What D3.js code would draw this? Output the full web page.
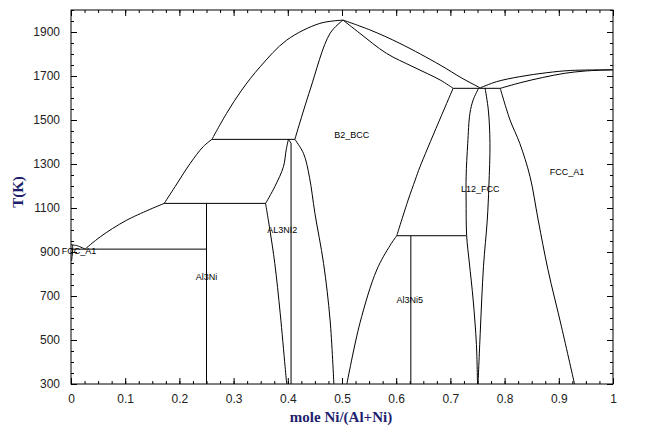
<!DOCTYPE html>
<html>
<head>
<meta charset="utf-8">
<script src="https://cdn.jsdelivr.net/npm/d3@7/dist/d3.min.js"></script>
<style>
  html, body { margin: 0; padding: 0; background: #fff; }
  svg { display: block; }
</style>
</head>
<body>
<svg id="chart" width="645" height="442"></svg>
<script>
// ---------- DATA (composition x = mole Ni/(Al+Ni), temperature T in K) ----------
const xTickValues = [0, 0.1, 0.2, 0.3, 0.4, 0.5, 0.6, 0.7, 0.8, 0.9, 1];
const xTickLabels = ["0", "0.1", "0.2", "0.3", "0.4", "0.5", "0.6", "0.7", "0.8", "0.9", "1"];
const yTickValues = [300, 500, 700, 900, 1100, 1300, 1500, 1700, 1900];
const yTickLabels = ["300", "500", "700", "900", "1100", "1300", "1500", "1700", "1900"];

const liquidusAl = [[0, 933], [0.012, 928], [0.026, 913]];
const solvusAl = [[0.003, 933], [0.003, 913], [0.002, 880], [0.001, 860]];
const liquidusAl3Ni = [[0.026, 913], [0.054, 969], [0.103, 1045], [0.172, 1121]];
const liquidusAl3Ni2 = [[0.172, 1121], [0.192, 1197], [0.220, 1303], [0.244, 1379], [0.260, 1412]];
const liquidusB2Left = [[0.260, 1412], [0.287, 1530], [0.315, 1636], [0.349, 1742], [0.398, 1863], [0.459, 1939], [0.502, 1954]];
const liquidusB2Right = [[0.502, 1954], [0.552, 1909], [0.607, 1848], [0.681, 1750], [0.720, 1692], [0.755, 1646]];
const solidusB2Left = [[0.413, 1412], [0.441, 1636], [0.478, 1894], [0.502, 1954]];
const solidusB2Right = [[0.502, 1954], [0.533, 1894], [0.582, 1803], [0.631, 1742], [0.681, 1682], [0.705, 1644]];
const b2LeftSolvus = [[0.413, 1412], [0.429, 1348], [0.440, 1240], [0.450, 1076], [0.466, 848], [0.478, 591], [0.485, 300]];
const b2RightUpper = [[0.705, 1644], [0.644, 1288], [0.635, 1227], [0.622, 1136], [0.601, 974]];
const b2RightLower = [[0.601, 974], [0.589, 931], [0.564, 818], [0.533, 576], [0.509, 300]];
const al3ni2LeftUpper = [[0.359, 1121], [0.376, 1197], [0.392, 1288], [0.397, 1364], [0.401, 1412]];
const al3ni2LeftLower = [[0.359, 1121], [0.367, 1000], [0.376, 848], [0.386, 621], [0.395, 379], [0.398, 300]];
const al3ni2Right = [[0.401, 1412], [0.406, 1395], [0.406, 300]];
const l12Left = [[0.752, 1644], [0.742, 1591], [0.736, 1530], [0.732, 1394], [0.729, 1242], [0.729, 1136], [0.730, 974], [0.735, 850], [0.742, 682], [0.748, 480], [0.750, 300]];
const l12Right = [[0.764, 1644], [0.770, 1545], [0.773, 1394], [0.771, 1200], [0.768, 1045], [0.761, 833], [0.755, 530], [0.751, 300]];
const fccSolvus = [[0.792, 1644], [0.810, 1500], [0.828, 1394], [0.847, 1242], [0.862, 1045], [0.880, 820], [0.905, 560], [0.929, 300]];
const liquidusFcc = [[0.755, 1646], [0.785, 1674], [0.828, 1697], [0.878, 1715], [0.921, 1725], [1, 1728]];
const solidusFcc = [[0.792, 1644], [0.830, 1670], [0.870, 1693], [0.910, 1712], [0.950, 1723], [1, 1728]];

const eutecticAl = [[0, 913], [0.25, 913]];
const peritecticAl3Ni = [[0.172, 1121], [0.359, 1121]];
const peritecticAl3Ni2 = [[0.260, 1412], [0.413, 1412]];
const peritectoidAl3Ni5 = [[0.601, 974], [0.729, 974]];
const invariantL12 = [[0.705, 1644], [0.792, 1644]];
const lineAl3Ni = [[0.25, 1121], [0.25, 300]];
const lineAl3Ni5 = [[0.627, 974], [0.627, 300]];

const smoothCurves = [liquidusAl, solvusAl, liquidusAl3Ni, liquidusAl3Ni2, liquidusB2Left, liquidusB2Right,
  solidusB2Left, solidusB2Right, b2LeftSolvus, b2RightUpper, b2RightLower, al3ni2LeftUpper, al3ni2LeftLower,
  l12Left, l12Right, fccSolvus, liquidusFcc, solidusFcc];
const straightLines = [eutecticAl, peritecticAl3Ni, peritecticAl3Ni2, peritectoidAl3Ni5, invariantL12,
  lineAl3Ni, lineAl3Ni5, al3ni2Right];

const phaseLabels = ["B2_BCC", "L12_FCC", "FCC_A1", "AL3NI2", "Al3Ni", "Al3Ni5", "FCC_A1"];
const phaseLabelX = [0.518, 0.755, 0.915, 0.390, 0.250, 0.625, 0.015];
const phaseLabelT = [1418, 1173, 1250, 986, 773, 668, 891];

// ---------- LAYOUT ----------
const svg = d3.select("#chart");
svg.append("rect").attr("width", 645).attr("height", 442).attr("fill", "#fff");

const x = d3.scaleLinear().domain([0, 1]).range([71, 613]);
const y = d3.scaleLinear().domain([300, 2000]).range([384, 10]);

const minorX = d3.range(0, 1.0001, 0.025).map(v => +v.toFixed(3));
const minorY = d3.range(300, 2000.1, 50);

function clean(g) { g.select(".domain").remove(); g.selectAll("line").attr("stroke", "#000"); }

// minor ticks
svg.append("g").attr("transform", "translate(0,384)")
  .call(d3.axisBottom(x).tickValues(minorX).tickSize(-3).tickFormat("")).call(clean);
svg.append("g").attr("transform", "translate(0,10)")
  .call(d3.axisTop(x).tickValues(minorX).tickSize(-3).tickFormat("")).call(clean);
svg.append("g").attr("transform", "translate(71,0)")
  .call(d3.axisLeft(y).tickValues(minorY).tickSize(-3).tickFormat("")).call(clean);
svg.append("g").attr("transform", "translate(613,0)")
  .call(d3.axisRight(y).tickValues(minorY).tickSize(-3).tickFormat("")).call(clean);

// major ticks + labels
const xAxis = svg.append("g").attr("transform", "translate(0,384)")
  .call(d3.axisBottom(x).tickValues(xTickValues).tickSize(-6).tickPadding(10)
    .tickFormat((d, i) => xTickLabels[i])).call(clean);
svg.append("g").attr("transform", "translate(0,10)")
  .call(d3.axisTop(x).tickValues(xTickValues).tickSize(-6).tickFormat("")).call(clean);
const yAxis = svg.append("g").attr("transform", "translate(71,0)")
  .call(d3.axisLeft(y).tickValues(yTickValues).tickSize(-6).tickPadding(11)
    .tickFormat((d, i) => yTickLabels[i])).call(clean);
svg.append("g").attr("transform", "translate(613,0)")
  .call(d3.axisRight(y).tickValues(yTickValues).tickSize(-6).tickFormat("")).call(clean);

[xAxis, yAxis].forEach(g => g.selectAll("text")
  .attr("font-family", "'Liberation Sans', Arial, sans-serif")
  .attr("font-size", 12).attr("fill", "#222"));

// frame
svg.append("rect").attr("x", 71).attr("y", 10).attr("width", 542).attr("height", 374)
  .attr("fill", "none").attr("stroke", "#000").attr("stroke-width", 1);

// phase boundaries
const smoothLine = d3.line().x(d => x(d[0])).y(d => y(d[1])).curve(d3.curveCatmullRom.alpha(0.5));
const straightLine = d3.line().x(d => x(d[0])).y(d => y(d[1]));

const plot = svg.append("g");
plot.selectAll("path.smooth").data(smoothCurves).join("path")
  .attr("class", "smooth").attr("d", smoothLine)
  .attr("fill", "none").attr("stroke", "#000").attr("stroke-width", 1);
plot.selectAll("path.straight").data(straightLines).join("path")
  .attr("class", "straight").attr("d", straightLine)
  .attr("fill", "none").attr("stroke", "#000").attr("stroke-width", 1);

// phase labels
svg.append("g").selectAll("text").data(phaseLabels).join("text")
  .attr("x", (d, i) => x(phaseLabelX[i]))
  .attr("y", (d, i) => y(phaseLabelT[i]))
  .attr("text-anchor", "middle")
  .attr("font-family", "'Liberation Sans', Arial, sans-serif")
  .attr("font-size", 9).attr("fill", "#000")
  .text(d => d);

// axis titles
svg.append("text")
  .attr("transform", "translate(23,192) rotate(-90)")
  .attr("text-anchor", "middle")
  .attr("font-family", "'Liberation Serif', 'Times New Roman', serif")
  .attr("font-weight", "bold").attr("font-size", 15).attr("fill", "#1e1e6e")
  .text("T(K)");
svg.append("text")
  .attr("x", 341).attr("y", 422)
  .attr("text-anchor", "middle")
  .attr("font-family", "'Liberation Serif', 'Times New Roman', serif")
  .attr("font-weight", "bold").attr("font-size", 15).attr("fill", "#1e1e6e")
  .text("mole Ni/(Al+Ni)");
</script>
</body>
</html>
